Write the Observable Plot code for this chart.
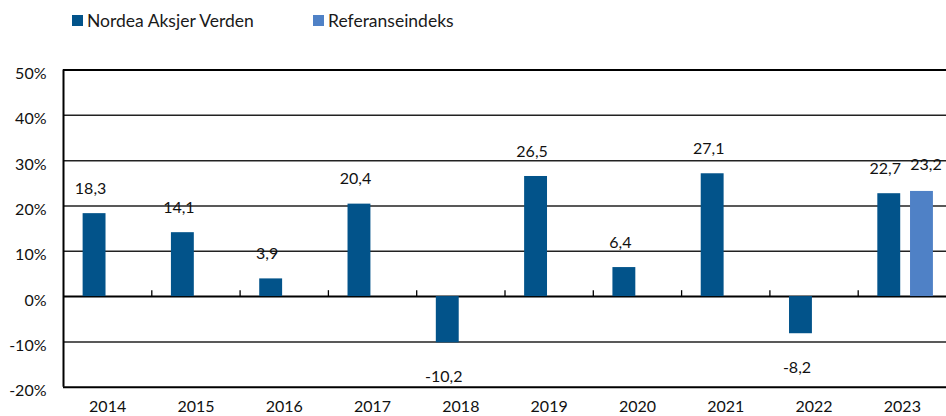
<!DOCTYPE html>
<html>
<head>
<meta charset="utf-8">
<script src="https://cdn.jsdelivr.net/npm/d3@7"></script>
<script src="https://cdn.jsdelivr.net/npm/@observablehq/plot@0.6"></script>
<style>
  body { margin: 0; background: #fff; font-family: Lato, sans-serif; }
  #legend { position: relative; height: 40px; width: 946px; font-size: 17.5px; color: #1a1a1a; }
  .item { position: absolute; top: 10px; display: flex; align-items: center; }
  .sw { width: 11px; height: 11px; margin-right: 4px; }
</style>
</head>
<body>
<div id="legend"></div>
<div id="chart"></div>
<script>
const years = [2014, 2015, 2016, 2017, 2018, 2019, 2020, 2021, 2022, 2023];
const nordea = [18.3, 14.1, 3.9, 20.4, -10.2, 26.5, 6.4, 27.1, -8.2, 22.7];
const referanse = [null, null, null, null, null, null, null, null, null, 23.2];
const seriesNames = ["Nordea Aksjer Verden", "Referanseindeks"];
const seriesColors = ["#02538a", "#4f81c6"];
const yTicks = [-20, -10, 0, 10, 20, 30, 40, 50];

// legend
const legend = document.getElementById("legend");
const legendLeft = [72, 313];
seriesNames.forEach((s, i) => {
  const it = document.createElement("div");
  it.className = "item";
  it.style.left = legendLeft[i] + "px";
  it.innerHTML = `<span class="sw" style="background:${seriesColors[i]}"></span><span>${s}</span>`;
  legend.appendChild(it);
});

const sub = d3.scaleBand(seriesNames, [-0.5, 0.5]).paddingInner(0.3).paddingOuter(0.5).align(0.6);
const rows = [];
years.forEach((yr, i) => {
  [nordea[i], referanse[i]].forEach((v, j) => {
    if (v == null) return;
    const x1 = yr + sub(seriesNames[j]);
    rows.push({year: yr, series: seriesNames[j], value: v, x1, x2: x1 + sub.bandwidth()});
  });
});
const fmt = v => v.toFixed(1).replace(".", ",");
const boundaries = years.slice(1).map(y => y - 0.5);
const xDomain = [years[0] - 0.5, years[years.length - 1] + 0.5];
const mid = d => (d.x1 + d.x2) / 2;
const labelOpts = {x: mid, y: "value", text: d => fmt(d.value), fontSize: 16, fill: "#111"};
const pick = (s, pos) => rows.filter(d => d.series === s && (pos ? d.value >= 0 : d.value < 0));

const chart = Plot.plot({
  width: 946,
  height: 376,
  marginLeft: 63,
  marginRight: 0,
  marginTop: 29.5,
  marginBottom: 29.3,
  style: {fontFamily: "Lato, sans-serif", fontSize: "16px", color: "#111"},
  x: {domain: xDomain},
  y: {domain: [-20, 50]},
  color: {domain: seriesNames, range: seriesColors},
  marks: [
    Plot.ruleY(yTicks.filter(d => d !== -20 && d !== 50 && d !== 0), {stroke: "#222", strokeWidth: 1.5}),
    Plot.ruleY([-20, 50, 0], {stroke: "#000", strokeWidth: 2}),
    Plot.ruleX([xDomain[0]], {stroke: "#000", strokeWidth: 2}),
    Plot.rectY(rows, {x1: "x1", x2: "x2", y1: 0, y2: "value", fill: "series"}),
    Plot.ruleX(boundaries, {y1: 0, y2: 1.3, stroke: "#000", strokeWidth: 1.3}),
    Plot.text(pick(seriesNames[0], true), {...labelOpts, dy: -25, dx: -4}),
    Plot.text(pick(seriesNames[0], false), {...labelOpts, dy: 34, dx: -4}),
    Plot.text(pick(seriesNames[1], true), {...labelOpts, dy: -27, dx: 4}),
    Plot.axisY(yTicks, {tickSize: 0, tickPadding: 17, tickFormat: d => d + "%", dy: 4, fontSize: 16, label: null}),
    Plot.axisX(years, {tickSize: 0, tickPadding: 13, tickFormat: d => String(d), fontSize: 16, label: null})
  ]
});
document.getElementById("chart").appendChild(chart);
</script>
</body>
</html>
